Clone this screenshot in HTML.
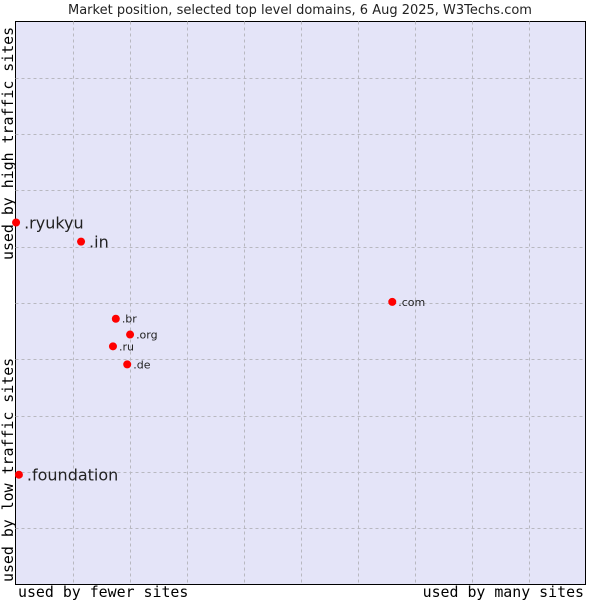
<!DOCTYPE html>
<html><head><meta charset="utf-8"><style>
body{margin:0;background:#fff;width:600px;height:600px;overflow:hidden}
svg text{font-family:"DejaVu Sans","Liberation Sans",sans-serif}
.mono{font-family:"DejaVu Sans Mono","Liberation Mono",monospace}
</style></head><body>
<svg id="chart" width="600" height="600">
<text x="300" y="14" text-anchor="middle" font-size="13" fill="#222">Market position, selected top level domains, 6 Aug 2025, W3Techs.com</text>
<rect x="15.5" y="21.5" width="570" height="563" fill="#e4e4f8" stroke="#000"/>
<g id="grid"></g>
<g id="marks"></g>
<text class="mono" x="18" y="597" font-size="14.9" fill="#000">used by fewer sites</text>
<text class="mono" x="584" y="597" font-size="14.9" fill="#000" text-anchor="end">used by many sites</text>
<text class="mono" transform="translate(13,260) rotate(-90)" font-size="14.9" fill="#000">used by high traffic sites</text>
<text class="mono" transform="translate(13,582) rotate(-90)" font-size="14.9" fill="#000">used by low traffic sites</text>
</svg>
<script>
const domains=[".ryukyu",".in",".com",".br",".org",".ru",".de",".foundation"];
const xValues=[0.01,1.15,6.61,1.76,2.01,1.71,1.96,0.06];
const yValues=[6.43,6.09,5.02,4.72,4.44,4.23,3.91,1.95];
const labelSizes=[16,16,11,11,11,11,11,16];
const L=15.5,T=21.5,W=570,H=563;
const sx=v=>L+v*W/10, sy=v=>T+H-v*H/10;
const ns="http://www.w3.org/2000/svg";
const grid=document.getElementById('grid'), marks=document.getElementById('marks');
for(let i=1;i<10;i++){
  const v=document.createElementNS(ns,'line');
  
  
  v.setAttribute('x1',Math.round(sx(i))+0.5);v.setAttribute('x2',Math.round(sx(i))+0.5);
  v.setAttribute('y1',T);v.setAttribute('y2',T+H);
  v.setAttribute('stroke','#b8b8c0');v.setAttribute('stroke-dasharray','3,3');
  grid.appendChild(v);
  const h=document.createElementNS(ns,'line');
  
  
  h.setAttribute('y1',Math.round(sy(i))+0.5);h.setAttribute('y2',Math.round(sy(i))+0.5);
  h.setAttribute('x1',L);h.setAttribute('x2',L+W);
  h.setAttribute('stroke','#b8b8c0');h.setAttribute('stroke-dasharray','3,3');
  grid.appendChild(h);
}
domains.forEach((d,i)=>{
  const x=sx(xValues[i]),y=sy(yValues[i]);
  const c=document.createElementNS(ns,'circle');
  
  
  c.setAttribute('cx',x);c.setAttribute('cy',y);c.setAttribute('r',4);c.setAttribute('fill','#f00');
  marks.appendChild(c);
  const t=document.createElementNS(ns,'text');
  
  
  t.setAttribute('x',x+(labelSizes[i]>12?8:6));t.setAttribute('y',y+labelSizes[i]*0.36);
  t.setAttribute('font-size',labelSizes[i]);t.setAttribute('fill','#222');
  t.textContent=d;
  marks.appendChild(t);
});
</script>
</body></html>
